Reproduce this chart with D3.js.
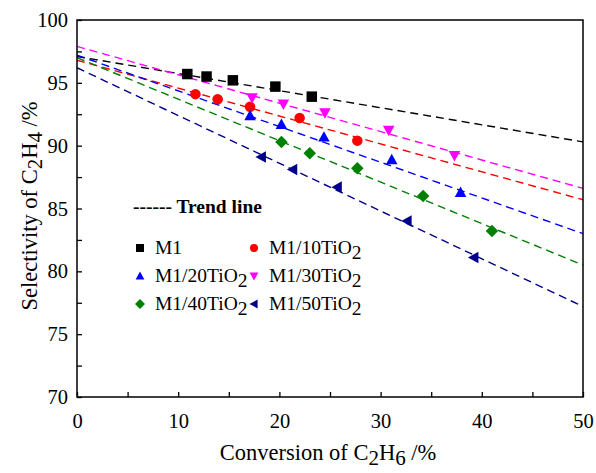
<!DOCTYPE html>
<html>
<head>
<meta charset="utf-8">
<script src="https://cdn.jsdelivr.net/npm/d3@7"></script>
<style>
  body { margin: 0; background: #fff; }
  svg text { font-family: "Liberation Serif", "Times New Roman", serif; }
</style>
</head>
<body>
<div id="chart"></div>
<script>
const width = 596;
const height = 473;
const margin = { top: 20, right: 13, bottom: 76, left: 77 };
const serif = '"Liberation Serif", "Times New Roman", serif';

// series names and subscripts (labels drawn as text + subscript)
const seriesNames = ['M1', 'M1/10TiO', 'M1/20TiO', 'M1/30TiO', 'M1/40TiO', 'M1/50TiO'];
const seriesSubs = ['', '2', '2', '2', '2', '2'];
const seriesColors = ['#000000', '#ff0000', '#0000ff', '#ff00ff', '#008000', '#00008b'];
const seriesSymbols = ['square', 'circle', 'up', 'down', 'diamond', 'left'];

// conversion of C2H6 (%)
const conv = [
    [10.9, 12.8, 15.4, 19.6, 23.2],
    [11.7, 13.9, 17.1, 22.0, 27.7],
    [17.1, 20.2, 24.4, 31.1, 37.9],
    [17.3, 20.4, 24.5, 30.8, 37.3],
    [20.2, 23.0, 27.7, 34.2, 41.0],
    [18.2, 21.3, 25.7, 32.6, 39.2]
];
// selectivity of C2H4 (%)
const sel = [
    [95.7, 95.5, 95.2, 94.7, 93.9],
    [94.1, 93.7, 93.1, 92.2, 90.4],
    [92.4, 91.7, 90.7, 88.9, 86.3],
    [93.8, 93.3, 92.6, 91.2, 89.2],
    [90.3, 89.4, 88.2, 86.0, 83.2],
    [89.1, 88.1, 86.7, 84.0, 81.1]
];
// trend line values at conversion 0 and 50
const trendStart = [97.1, 96.8, 97.2, 97.9, 97.0, 96.2];
const trendEnd = [90.3, 85.7, 83.0, 86.6, 80.5, 77.2];

const xTicks = [0, 10, 20, 30, 40, 50];
const yTicks = [70, 75, 80, 85, 90, 95, 100];

const svg = d3.select('#chart').append('svg')
    .attr('width', width)
    .attr('height', height);

const x = d3.scaleLinear().domain([0, 50]).range([margin.left, width - margin.right]);
const y = d3.scaleLinear().domain([70, 100]).range([height - margin.bottom, margin.top]);

// trend lines
const trendData = trendStart.map((s, i) => ({ color: seriesColors[i], pts: [[0, s], [50, trendEnd[i]]] }));
svg.append('g').selectAll('line')
    .data(trendData)
    .enter()
    .append('line')
    .attr('x1', d => x(d.pts[0][0]))
    .attr('y1', d => y(d.pts[0][1]))
    .attr('x2', d => x(d.pts[1][0]))
    .attr('y2', d => y(d.pts[1][1]))
    .attr('stroke', d => d.color)
    .attr('stroke-width', 1.4)
    .attr('stroke-dasharray', '8,5');

// marker shapes
function symbolPath(kind, s) {
    if (kind === 'square') return d3.symbol(d3.symbolSquare, s * s)();
    if (kind === 'circle') return d3.symbol(d3.symbolCircle, Math.PI * (s / 2) * (s / 2))();
    if (kind === 'diamond') {
        const r = s / 2 + 1;
        return `M0,${-r}L${r},0L0,${r}L${-r},0Z`;
    }
    const h = s * 0.9, w = s * 1.1;
    if (kind === 'up') return `M0,${-h / 2 - 1}L${w / 2},${h / 2}L${-w / 2},${h / 2}Z`;
    if (kind === 'down') return `M0,${h / 2 + 1}L${w / 2},${-h / 2}L${-w / 2},${-h / 2}Z`;
    if (kind === 'left') return `M${-h / 2 - 1},0L${h / 2},${-w / 2}L${h / 2},${w / 2}Z`;
}

// points
conv.forEach((xs, i) => {
    svg.append('g').selectAll('path')
        .data(xs.map((v, j) => [v, sel[i][j]]))
        .enter()
        .append('path')
        .attr('transform', d => `translate(${x(d[0])},${y(d[1])})`)
        .attr('d', symbolPath(seriesSymbols[i], 10.5))
        .attr('fill', seriesColors[i]);
});

// axes with inward ticks
const xAxis = svg.append('g')
    .attr('transform', `translate(0,${height - margin.bottom})`)
    .call(d3.axisBottom(x).tickValues(d3.range(0, 51, 5)).tickSizeInner(-5).tickSizeOuter(0)
        .tickFormat(d => xTicks.includes(d) ? d : ''));
xAxis.selectAll('text').attr('y', 16).attr('dy', '0.71em');

const yAxis = svg.append('g')
    .attr('transform', `translate(${margin.left},0)`)
    .call(d3.axisLeft(y).tickValues(d3.range(70, 100.1, 2.5)).tickSizeInner(-5).tickSizeOuter(0)
        .tickFormat(d => yTicks.includes(d) ? d : ''));
yAxis.selectAll('text').attr('x', -9);

[xAxis, yAxis].forEach(a => {
    a.attr('font-family', serif).attr('font-size', 20.5);
    a.selectAll('text').attr('fill', '#000').attr('font-family', serif);
    a.select('.domain').remove();
    a.selectAll('line').attr('stroke', '#000').attr('stroke-width', 1.3);
});

// frame
svg.append('rect')
    .attr('x', x(0))
    .attr('y', y(100))
    .attr('width', x(50) - x(0))
    .attr('height', y(70) - y(100))
    .attr('fill', 'none')
    .attr('stroke', '#000')
    .attr('stroke-width', 1.5);

// axis titles
const xt = svg.append('text')
    .attr('x', 328)
    .attr('y', 460)
    .attr('text-anchor', 'middle')
    .attr('font-family', serif)
    .attr('font-size', 22.5);
xt.append('tspan').text('Conversion of C');
xt.append('tspan').attr('baseline-shift', '-25%').attr('font-size', 21).text('2');
xt.append('tspan').text('H');
xt.append('tspan').attr('baseline-shift', '-25%').attr('font-size', 21).text('6');
xt.append('tspan').text(' /%');

const yt = svg.append('text')
    .attr('transform', 'translate(37,206) rotate(-90)')
    .attr('text-anchor', 'middle')
    .attr('font-family', serif)
    .attr('font-size', 22.5);
yt.append('tspan').text('Selectivity of C');
yt.append('tspan').attr('baseline-shift', '-25%').attr('font-size', 21).text('2');
yt.append('tspan').text('H');
yt.append('tspan').attr('baseline-shift', '-25%').attr('font-size', 21).text('4');
yt.append('tspan').text(' /%');

// legend: trend line
svg.append('text')
    .attr('x', 133)
    .attr('y', 213)
    .attr('font-family', serif)
    .attr('font-size', 19.5)
    .attr('font-weight', 'bold')
    .text('------ Trend line');

// legend: series
const legend = svg.append('g').selectAll('g')
    .data(seriesNames)
    .enter()
    .append('g')
    .attr('transform', (d, i) => `translate(${i % 2 === 0 ? 140 : 254},${248 + Math.floor(i / 2) * 28})`);

legend.append('path')
    .attr('d', (d, i) => symbolPath(seriesSymbols[i], 8))
    .attr('fill', (d, i) => seriesColors[i]);

const lt = legend.append('text')
    .attr('x', 15)
    .attr('y', 6)
    .attr('font-family', serif)
    .attr('font-size', 19.5);
lt.append('tspan').text(d => d);
lt.append('tspan').attr('baseline-shift', '-25%').text((d, i) => seriesSubs[i]);
</script>
</body>
</html>
